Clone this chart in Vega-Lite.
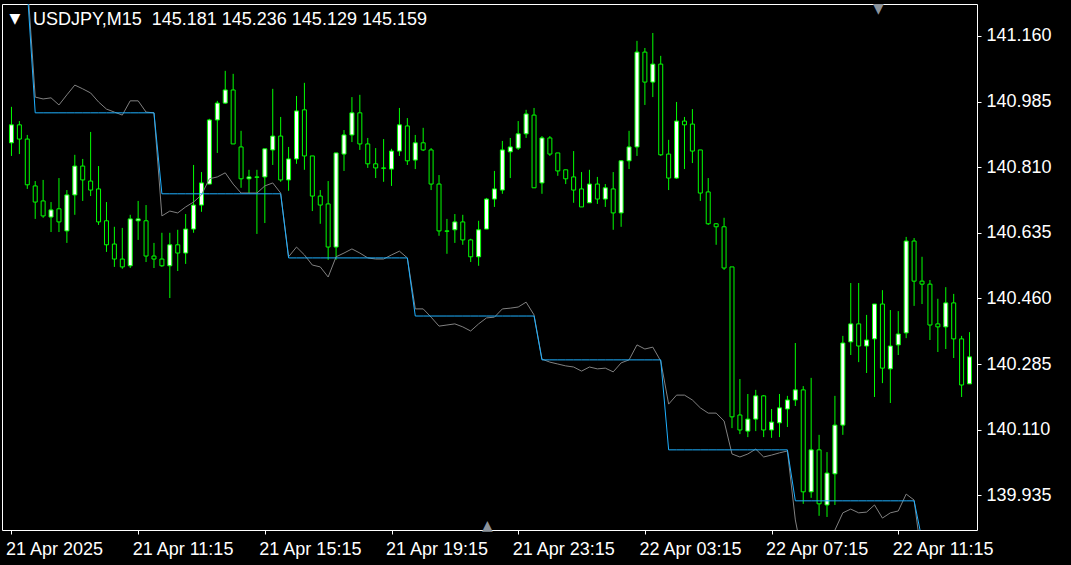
{
  "$schema": "https://vega.github.io/schema/vega-lite/v6.json",
  "width": 975,
  "height": 526,
  "autosize": {"type": "none"},
  "padding": {"left": 2, "top": 4, "right": 94, "bottom": 35},
  "background": "#000000",
  "title": {
    "text": "USDJPY,M15\u00a0\u00a0145.181 145.236 145.129 145.159",
    "anchor": "start", "frame": "group", "orient": "top", "offset": -42,
    "dx": 31, "baseline": "alphabetic",
    "color": "#ffffff", "font": "Liberation Sans", "fontSize": 18, "fontWeight": "normal"
  },
  "config": {
    "view": {"stroke": "#ffffff", "strokeWidth": 1},
    "axis": {"grid": false, "domain": false}
  },
  "resolve": {"axis": {"x": "independent"}},
  "data": {
    "values": [
      {"i":0,"o":140.875,"h":140.971,"l":140.840,"c":140.923,"b":141.283,"g":141.309},
      {"i":1,"o":140.923,"h":140.933,"l":140.845,"c":140.885,"b":141.283,"g":141.309},
      {"i":2,"o":140.885,"h":140.896,"l":140.752,"c":140.763,"b":141.283,"g":141.309},
      {"i":3,"o":140.760,"h":140.773,"l":140.672,"c":140.717,"b":140.955,"g":140.997},
      {"i":4,"o":140.720,"h":140.776,"l":140.675,"c":140.680,"b":140.955,"g":140.992},
      {"i":5,"o":140.677,"h":140.717,"l":140.637,"c":140.696,"b":140.955,"g":140.995},
      {"i":6,"o":140.699,"h":140.781,"l":140.637,"c":140.664,"b":140.955,"g":140.976},
      {"i":7,"o":140.640,"h":140.749,"l":140.608,"c":140.736,"b":140.955,"g":141.003},
      {"i":8,"o":140.736,"h":140.843,"l":140.683,"c":140.813,"b":140.955,"g":141.029},
      {"i":9,"o":140.813,"h":140.832,"l":140.720,"c":140.776,"b":140.955,"g":141.019},
      {"i":10,"o":140.773,"h":140.904,"l":140.733,"c":140.749,"b":140.955,"g":141.008},
      {"i":11,"o":140.752,"h":140.813,"l":140.656,"c":140.664,"b":140.955,"g":140.984},
      {"i":12,"o":140.667,"h":140.717,"l":140.584,"c":140.603,"b":140.955,"g":140.965},
      {"i":13,"o":140.605,"h":140.651,"l":140.544,"c":140.565,"b":140.955,"g":140.957},
      {"i":14,"o":140.565,"h":140.648,"l":140.539,"c":140.544,"b":140.955,"g":140.949},
      {"i":15,"o":140.547,"h":140.683,"l":140.541,"c":140.672,"b":140.955,"g":140.987},
      {"i":16,"o":140.667,"h":140.720,"l":140.616,"c":140.672,"b":140.955,"g":140.987},
      {"i":17,"o":140.667,"h":140.709,"l":140.557,"c":140.573,"b":140.955,"g":140.957},
      {"i":18,"o":140.573,"h":140.608,"l":140.541,"c":140.565,"b":140.955,"g":140.955},
      {"i":19,"o":140.565,"h":140.635,"l":140.544,"c":140.547,"b":140.739,"g":140.680},
      {"i":20,"o":140.547,"h":140.635,"l":140.461,"c":140.603,"b":140.739,"g":140.693},
      {"i":21,"o":140.603,"h":140.643,"l":140.533,"c":140.581,"b":140.739,"g":140.688},
      {"i":22,"o":140.581,"h":140.685,"l":140.552,"c":140.645,"b":140.739,"g":140.704},
      {"i":23,"o":140.645,"h":140.816,"l":140.635,"c":140.709,"b":140.739,"g":140.717},
      {"i":24,"o":140.709,"h":140.797,"l":140.691,"c":140.768,"b":140.739,"g":140.736},
      {"i":25,"o":140.765,"h":140.939,"l":140.765,"c":140.936,"b":140.739,"g":140.779},
      {"i":26,"o":140.936,"h":140.987,"l":140.848,"c":140.981,"b":140.739,"g":140.784},
      {"i":27,"o":140.981,"h":141.067,"l":140.979,"c":141.016,"b":140.739,"g":140.795},
      {"i":28,"o":141.016,"h":141.059,"l":140.872,"c":140.872,"b":140.739,"g":140.765},
      {"i":29,"o":140.864,"h":140.907,"l":140.755,"c":140.779,"b":140.739,"g":140.741},
      {"i":30,"o":140.779,"h":140.803,"l":140.741,"c":140.784,"b":140.739,"g":140.741},
      {"i":31,"o":140.784,"h":140.803,"l":140.632,"c":140.783,"b":140.739,"g":140.741},
      {"i":32,"o":140.784,"h":140.859,"l":140.661,"c":140.859,"b":140.739,"g":140.760},
      {"i":33,"o":140.856,"h":141.019,"l":140.816,"c":140.893,"b":140.739,"g":140.768},
      {"i":34,"o":140.893,"h":140.944,"l":140.771,"c":140.776,"b":140.739,"g":140.741},
      {"i":35,"o":140.776,"h":140.864,"l":140.747,"c":140.832,"b":140.568,"g":140.571},
      {"i":36,"o":140.832,"h":141.000,"l":140.819,"c":140.960,"b":140.568,"g":140.597},
      {"i":37,"o":140.963,"h":141.035,"l":140.803,"c":140.840,"b":140.568,"g":140.576},
      {"i":38,"o":140.840,"h":140.840,"l":140.693,"c":140.733,"b":140.568,"g":140.549},
      {"i":39,"o":140.733,"h":140.749,"l":140.659,"c":140.709,"b":140.568,"g":140.544},
      {"i":40,"o":140.712,"h":140.773,"l":140.563,"c":140.597,"b":140.568,"g":140.517},
      {"i":41,"o":140.597,"h":140.848,"l":140.563,"c":140.848,"b":140.568,"g":140.571},
      {"i":42,"o":140.845,"h":140.909,"l":140.800,"c":140.896,"b":140.568,"g":140.581},
      {"i":43,"o":140.896,"h":140.997,"l":140.877,"c":140.955,"b":140.568,"g":140.592},
      {"i":44,"o":140.955,"h":141.003,"l":140.856,"c":140.872,"b":140.568,"g":140.581},
      {"i":45,"o":140.872,"h":140.888,"l":140.808,"c":140.819,"b":140.568,"g":140.568},
      {"i":46,"o":140.819,"h":140.861,"l":140.781,"c":140.808,"b":140.568,"g":140.565},
      {"i":47,"o":140.808,"h":140.885,"l":140.771,"c":140.807,"b":140.568,"g":140.565},
      {"i":48,"o":140.805,"h":140.859,"l":140.760,"c":140.853,"b":140.568,"g":140.576},
      {"i":49,"o":140.853,"h":140.968,"l":140.840,"c":140.923,"b":140.568,"g":140.586},
      {"i":50,"o":140.920,"h":140.941,"l":140.816,"c":140.827,"b":140.568,"g":140.568},
      {"i":51,"o":140.829,"h":140.896,"l":140.805,"c":140.875,"b":140.413,"g":140.432},
      {"i":52,"o":140.875,"h":140.915,"l":140.853,"c":140.856,"b":140.413,"g":140.432},
      {"i":53,"o":140.856,"h":140.861,"l":140.749,"c":140.765,"b":140.413,"g":140.410},
      {"i":54,"o":140.765,"h":140.789,"l":140.627,"c":140.640,"b":140.413,"g":140.386},
      {"i":55,"o":140.640,"h":140.672,"l":140.579,"c":140.639,"b":140.413,"g":140.389},
      {"i":56,"o":140.643,"h":140.685,"l":140.608,"c":140.664,"b":140.413,"g":140.392},
      {"i":57,"o":140.664,"h":140.683,"l":140.603,"c":140.616,"b":140.413,"g":140.384},
      {"i":58,"o":140.616,"h":140.619,"l":140.557,"c":140.571,"b":140.413,"g":140.373},
      {"i":59,"o":140.571,"h":140.667,"l":140.547,"c":140.643,"b":140.413,"g":140.392},
      {"i":60,"o":140.645,"h":140.728,"l":140.645,"c":140.725,"b":140.413,"g":140.408},
      {"i":61,"o":140.725,"h":140.800,"l":140.704,"c":140.752,"b":140.413,"g":140.410},
      {"i":62,"o":140.749,"h":140.880,"l":140.739,"c":140.856,"b":140.413,"g":140.432},
      {"i":63,"o":140.851,"h":140.888,"l":140.781,"c":140.864,"b":140.413,"g":140.434},
      {"i":64,"o":140.861,"h":140.933,"l":140.856,"c":140.899,"b":140.413,"g":140.437},
      {"i":65,"o":140.899,"h":140.963,"l":140.888,"c":140.952,"b":140.413,"g":140.450},
      {"i":66,"o":140.949,"h":140.968,"l":140.755,"c":140.755,"b":140.413,"g":140.416},
      {"i":67,"o":140.768,"h":140.893,"l":140.739,"c":140.888,"b":140.296,"g":140.298},
      {"i":68,"o":140.888,"h":140.893,"l":140.840,"c":140.845,"b":140.296,"g":140.290},
      {"i":69,"o":140.848,"h":140.848,"l":140.787,"c":140.800,"b":140.296,"g":140.285},
      {"i":70,"o":140.803,"h":140.803,"l":140.765,"c":140.779,"b":140.296,"g":140.280},
      {"i":71,"o":140.784,"h":140.853,"l":140.715,"c":140.749,"b":140.296,"g":140.277},
      {"i":72,"o":140.752,"h":140.797,"l":140.704,"c":140.704,"b":140.296,"g":140.266},
      {"i":73,"o":140.715,"h":140.803,"l":140.715,"c":140.765,"b":140.296,"g":140.277},
      {"i":74,"o":140.765,"h":140.784,"l":140.712,"c":140.725,"b":140.296,"g":140.272},
      {"i":75,"o":140.725,"h":140.765,"l":140.704,"c":140.755,"b":140.296,"g":140.274},
      {"i":76,"o":140.752,"h":140.797,"l":140.643,"c":140.688,"b":140.296,"g":140.264},
      {"i":77,"o":140.688,"h":140.829,"l":140.651,"c":140.827,"b":140.296,"g":140.288},
      {"i":78,"o":140.827,"h":140.907,"l":140.805,"c":140.864,"b":140.296,"g":140.296},
      {"i":79,"o":140.864,"h":141.147,"l":140.840,"c":141.117,"b":140.296,"g":140.336},
      {"i":80,"o":141.117,"h":141.128,"l":140.976,"c":141.037,"b":140.296,"g":140.325},
      {"i":81,"o":141.037,"h":141.168,"l":140.997,"c":141.085,"b":140.296,"g":140.330},
      {"i":82,"o":141.085,"h":141.107,"l":140.840,"c":140.843,"b":140.296,"g":140.293},
      {"i":83,"o":140.845,"h":140.883,"l":140.749,"c":140.781,"b":140.056,"g":140.178},
      {"i":84,"o":140.781,"h":140.984,"l":140.779,"c":140.933,"b":140.056,"g":140.202},
      {"i":85,"o":140.933,"h":140.944,"l":140.805,"c":140.923,"b":140.056,"g":140.202},
      {"i":86,"o":140.925,"h":140.965,"l":140.821,"c":140.853,"b":140.056,"g":140.189},
      {"i":87,"o":140.856,"h":140.856,"l":140.720,"c":140.741,"b":140.056,"g":140.168},
      {"i":88,"o":140.744,"h":140.781,"l":140.656,"c":140.659,"b":140.056,"g":140.154},
      {"i":89,"o":140.659,"h":140.661,"l":140.603,"c":140.651,"b":140.056,"g":140.154},
      {"i":90,"o":140.651,"h":140.675,"l":140.536,"c":140.541,"b":140.056,"g":140.133},
      {"i":91,"o":140.544,"h":140.544,"l":140.114,"c":140.144,"b":140.056,"g":140.045},
      {"i":92,"o":140.149,"h":140.245,"l":140.098,"c":140.109,"b":140.056,"g":140.037},
      {"i":93,"o":140.106,"h":140.205,"l":140.090,"c":140.138,"b":140.056,"g":140.045},
      {"i":94,"o":140.138,"h":140.216,"l":140.106,"c":140.200,"b":140.056,"g":140.058},
      {"i":95,"o":140.200,"h":140.202,"l":140.090,"c":140.109,"b":140.056,"g":140.037},
      {"i":96,"o":140.109,"h":140.165,"l":140.088,"c":140.130,"b":140.056,"g":140.042},
      {"i":97,"o":140.128,"h":140.205,"l":140.090,"c":140.168,"b":140.056,"g":140.048},
      {"i":98,"o":140.165,"h":140.200,"l":140.117,"c":140.189,"b":140.056,"g":140.053},
      {"i":99,"o":140.189,"h":140.341,"l":140.173,"c":140.216,"b":139.920,"g":139.869},
      {"i":100,"o":140.216,"h":140.226,"l":139.912,"c":139.944,"b":139.920,"g":139.762},
      {"i":101,"o":139.944,"h":140.248,"l":139.928,"c":140.056,"b":139.920,"g":139.736},
      {"i":102,"o":140.056,"h":140.096,"l":139.880,"c":139.912,"b":139.920,"g":139.762},
      {"i":103,"o":139.909,"h":140.050,"l":139.877,"c":139.994,"b":139.920,"g":139.794},
      {"i":104,"o":139.992,"h":140.200,"l":139.909,"c":140.122,"b":139.920,"g":139.842},
      {"i":105,"o":140.122,"h":140.360,"l":140.096,"c":140.341,"b":139.920,"g":139.888},
      {"i":106,"o":140.344,"h":140.501,"l":140.309,"c":140.392,"b":139.920,"g":139.898},
      {"i":107,"o":140.392,"h":140.501,"l":140.290,"c":140.333,"b":139.920,"g":139.888},
      {"i":108,"o":140.333,"h":140.416,"l":140.261,"c":140.349,"b":139.920,"g":139.890},
      {"i":109,"o":140.352,"h":140.445,"l":140.197,"c":140.445,"b":139.920,"g":139.909},
      {"i":110,"o":140.445,"h":140.482,"l":140.234,"c":140.274,"b":139.920,"g":139.874},
      {"i":111,"o":140.272,"h":140.429,"l":140.181,"c":140.333,"b":139.920,"g":139.888},
      {"i":112,"o":140.336,"h":140.426,"l":140.309,"c":140.365,"b":139.920,"g":139.893},
      {"i":113,"o":140.368,"h":140.624,"l":140.354,"c":140.613,"b":139.920,"g":139.938},
      {"i":114,"o":140.613,"h":140.621,"l":140.440,"c":140.506,"b":139.920,"g":139.922},
      {"i":115,"o":140.506,"h":140.571,"l":140.445,"c":140.498,"b":139.816,"g":139.762},
      {"i":116,"o":140.498,"h":140.509,"l":140.349,"c":140.389,"b":139.816,"g":139.762},
      {"i":117,"o":140.392,"h":140.459,"l":140.317,"c":140.384,"b":139.816,"g":139.762},
      {"i":118,"o":140.384,"h":140.490,"l":140.325,"c":140.448,"b":139.816,"g":139.762},
      {"i":119,"o":140.448,"h":140.472,"l":140.301,"c":140.352,"b":139.816,"g":139.762},
      {"i":120,"o":140.352,"h":140.360,"l":140.197,"c":140.229,"b":139.816,"g":139.762},
      {"i":121,"o":140.232,"h":140.370,"l":140.232,"c":140.304,"b":139.816,"g":139.762}
    ]
  },
  "encoding": {
    "x": {
      "field": "i", "type": "quantitative",
      "scale": {"domain": [-0.5625, 121.3125], "nice": false, "zero": false}
    }
  },
  "layer": [
    {
      "mark": {"type": "rule", "color": "#00ff00", "strokeWidth": 1},
      "encoding": {
        "x": {
          "field": "i", "type": "quantitative",
          "axis": {
            "orient": "bottom",
            "values": [0, 16, 32, 48, 64, 80, 96, 112],
            "labelExpr": "['21 Apr 2025','21 Apr 11:15','21 Apr 15:15','21 Apr 19:15','21 Apr 23:15','22 Apr 03:15','22 Apr 07:15','22 Apr 11:15'][round(datum.value/16)]",
            "labelAlign": "left", "labelBaseline": "top", "labelPadding": 6, "labelOffset": -6,
            "labelFlush": false, "labelOverlap": false, "labelBound": false,
            "labelColor": "#ffffff", "labelFont": "Liberation Sans", "labelFontSize": 18,
            "tickSize": 4, "tickColor": "#ffffff", "tickWidth": 1,
            "title": "▲", "titleColor": "#8c939b", "titleFont": "DejaVu Sans", "titleFontSize": 14,
            "titleFontWeight": "normal", "titleX": 485, "titleY": -5, "titleAlign": "center",
            "titleBaseline": "middle", "titleAngle": 0
          }
        },
        "y": {
          "field": "l", "type": "quantitative",
          "scale": {"domain": [139.8422, 141.2453], "nice": false, "zero": false},
          "axis": {
            "orient": "right",
            "values": [139.935, 140.11, 140.285, 140.46, 140.635, 140.81, 140.985, 141.16],
            "format": ".3f",
            "labelColor": "#ffffff", "labelFont": "Liberation Sans", "labelFontSize": 18,
            "labelPadding": 5, "labelBaseline": "middle", "labelAlign": "left", "labelOverlap": false,
            "tickSize": 4, "tickColor": "#ffffff", "tickWidth": 1,
            "title": "▼", "titleColor": "#ffffff", "titleFont": "DejaVu Sans", "titleFontSize": 14,
            "titleFontWeight": "normal", "titleAngle": 0, "titleX": -962.5, "titleY": 14,
            "titleAlign": "center", "titleBaseline": "middle"
          }
        },
        "y2": {"field": "h"}
      }
    },
    {
      "mark": {"type": "bar", "width": 4, "stroke": "#00ff00", "strokeWidth": 1},
      "encoding": {
        "x": {
          "field": "i", "type": "quantitative",
          "axis": {
            "orient": "top", "labels": false, "ticks": false,
            "title": "▼", "titleColor": "#8c939b", "titleFont": "DejaVu Sans", "titleFontSize": 14,
            "titleFontWeight": "normal", "titleX": 876, "titleY": 4, "titleAlign": "center",
            "titleBaseline": "middle", "titleAngle": 0
          }
        },
        "y": {
          "field": "o", "type": "quantitative",
          "axis": {
            "orient": "right",
            "values": [139.935, 140.11, 140.285, 140.46, 140.635, 140.81, 140.985, 141.16],
            "format": ".3f",
            "labelColor": "#ffffff", "labelFont": "Liberation Sans", "labelFontSize": 18,
            "labelPadding": 5, "labelBaseline": "middle", "labelAlign": "left", "labelOverlap": false,
            "tickSize": 4, "tickColor": "#ffffff", "tickWidth": 1,
            "title": "▼", "titleColor": "#ffffff", "titleFont": "DejaVu Sans", "titleFontSize": 14,
            "titleFontWeight": "normal", "titleAngle": 0, "titleX": -962.5, "titleY": 14,
            "titleAlign": "center", "titleBaseline": "middle"
          }
        },
        "y2": {"field": "c"},
        "fill": {"condition": {"test": "datum.c > datum.o", "value": "#ffffff"}, "value": "#000000"}
      }
    },
    {
      "mark": {"type": "line", "color": "#808080", "strokeWidth": 1, "clip": true},
      "encoding": {
        "x": {"field": "i", "type": "quantitative", "axis": null},
        "y": {
          "field": "g", "type": "quantitative",
          "axis": {
            "orient": "right",
            "values": [139.935, 140.11, 140.285, 140.46, 140.635, 140.81, 140.985, 141.16],
            "format": ".3f",
            "labelColor": "#ffffff", "labelFont": "Liberation Sans", "labelFontSize": 18,
            "labelPadding": 5, "labelBaseline": "middle", "labelAlign": "left", "labelOverlap": false,
            "tickSize": 4, "tickColor": "#ffffff", "tickWidth": 1,
            "title": "▼", "titleColor": "#ffffff", "titleFont": "DejaVu Sans", "titleFontSize": 14,
            "titleFontWeight": "normal", "titleAngle": 0, "titleX": -962.5, "titleY": 14,
            "titleAlign": "center", "titleBaseline": "middle"
          }
        }
      }
    },
    {
      "mark": {"type": "line", "color": "#1eb0ff", "strokeWidth": 1, "clip": true},
      "encoding": {
        "x": {"field": "i", "type": "quantitative", "axis": null},
        "y": {
          "field": "b", "type": "quantitative",
          "axis": {
            "orient": "right",
            "values": [139.935, 140.11, 140.285, 140.46, 140.635, 140.81, 140.985, 141.16],
            "format": ".3f",
            "labelColor": "#ffffff", "labelFont": "Liberation Sans", "labelFontSize": 18,
            "labelPadding": 5, "labelBaseline": "middle", "labelAlign": "left", "labelOverlap": false,
            "tickSize": 4, "tickColor": "#ffffff", "tickWidth": 1,
            "title": "▼", "titleColor": "#ffffff", "titleFont": "DejaVu Sans", "titleFontSize": 14,
            "titleFontWeight": "normal", "titleAngle": 0, "titleX": -962.5, "titleY": 14,
            "titleAlign": "center", "titleBaseline": "middle"
          }
        }
      }
    }
  ]
}
